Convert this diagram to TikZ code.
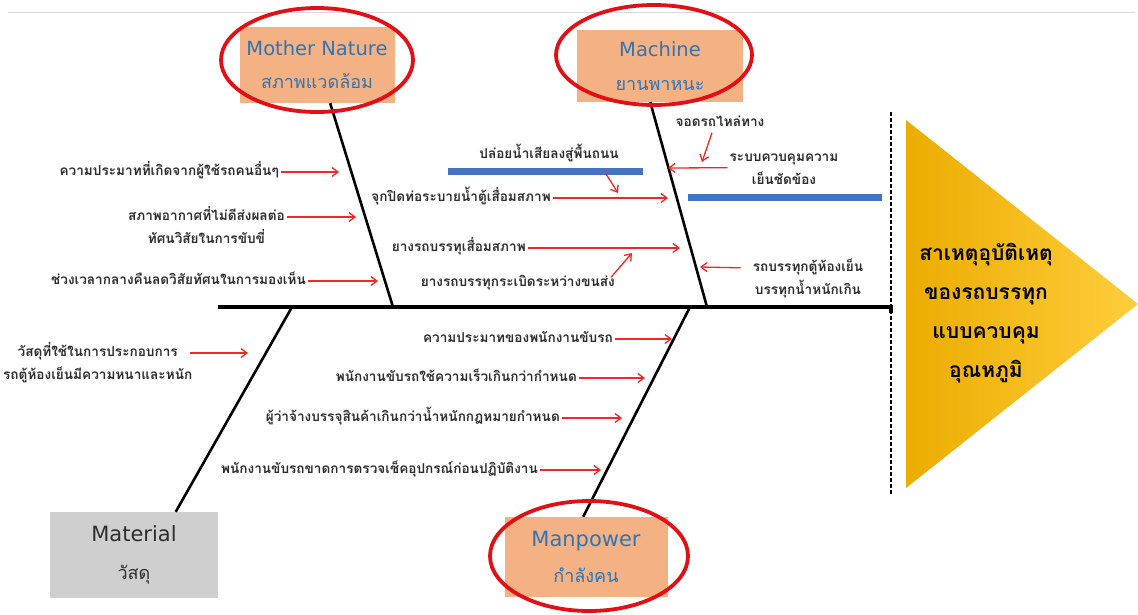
\documentclass[tikz,border=0pt]{standalone}
\usepackage{fontspec}
\setmainfont{DejaVu Sans}
\newfontfamily\thaifont[Script=Thai]{Loma}
\usetikzlibrary{positioning,arrows.meta,shapes.geometric}

\definecolor{boxorange}{RGB}{244,177,131}
\definecolor{labelblue}{RGB}{46,117,182}
\definecolor{ringred}{RGB}{226,16,22}
\definecolor{barblue}{RGB}{68,114,196}
\definecolor{matgrey}{RGB}{208,207,207}
\definecolor{txt}{RGB}{45,45,45}
\definecolor{hintred}{RGB}{240,40,40}
\definecolor{goldl}{RGB}{236,172,0}
\definecolor{goldm}{RGB}{255,192,0}
\definecolor{goldr}{RGB}{255,206,60}

\tikzset{
  cause/.style={font=\thaifont\bfseries\fontsize{13.6}{15}\selectfont,text=txt,inner sep=2pt,text height=11pt,text depth=4pt},
  catbox/.style={fill=boxorange,text=labelblue,align=center,inner sep=0pt},
  ring/.style={ellipse,draw=ringred,line width=3.8pt,inner sep=0pt},
  bone/.style={line width=2.6pt,black},
  hint/.style={draw=hintred,line width=1.3pt,-{Straight Barb[length=6pt,width=9pt]}},
}
\newcommand\thailine[1]{{\thaifont\fontsize{18}{20}\selectfont #1}}

\begin{document}
\begin{tikzpicture}[x=1pt,y=-1pt]
\useasboundingbox (0,0) rectangle (1138,614);
\draw[gray!30,line width=1pt] (8,12) -- (1135,12);

% category boxes
\node[catbox,font=\fontsize{19.5}{33}\selectfont,minimum width=155pt,minimum height=76pt] (nature) at (317,65) {Mother Nature\\\thailine{สภาพแวดล้อม}};
\node[catbox,font=\fontsize{19.5}{34}\selectfont,minimum width=166pt,minimum height=72pt] (machine) at (660,66) {Machine\\\thailine{ยานพาหนะ}};
\node[catbox,font=\fontsize{21}{36}\selectfont,minimum width=163pt,minimum height=80pt] (manpower) at (586,557) {Manpower\\\thailine{กำลังคน}};
\node[catbox,font=\fontsize{21}{38}\selectfont,fill=matgrey,text=txt,minimum width=168pt,minimum height=86pt] (material) at (134,555) {Material\\\thailine{วัสดุ}};

% head
\shade[left color=goldl,middle color=goldm,right color=goldr] (906,120) -- (1138,304) -- (906,488) -- cycle;
\node[font=\thaifont\bfseries\fontsize{21}{39}\selectfont,align=center,text=black] (effect) at (986,313)
  {สาเหตุอุบัติเหตุ\\ของรถบรรทุก\\แบบควบคุม\\อุณหภูมิ};
\draw[line width=1.6pt,dash pattern=on 4pt off 2pt] (891,112) -- (891,495);

% spine and bones
\coordinate (spinestart) at (218,307);
\coordinate (spineend) at (891,307);
\coordinate (naturefoot) at (393,307);
\coordinate (machinefoot) at (707,307);
\coordinate (materialfoot) at (292,307);
\coordinate (manpowerfoot) at (690,307);
\draw[line width=3.6pt] (spinestart) -- (spineend) -- ++(0,6);
\draw[bone] (nature.-71) -- (naturefoot);
\draw[bone] (machine.-105.5) -- (machinefoot);
\draw[bone] (material.46) -- (materialfoot);
\draw[bone] (manpower.94) -- (manpowerfoot);

\fill[barblue] (448,167.5) rectangle (643,174.5);
\fill[barblue] (688,193.5) rectangle (882,200.5);

% mother nature
\node[cause,anchor=east] (others) at (281,172) {ความประมาทที่เกิดจากผู้ใช้รถคนอื่นๆ};
\node[cause,anchor=east] (weather1) at (287,217) {สภาพอากาศที่ไม่ดีส่งผลต่อ};
\node[cause,below=4pt of weather1] (weather2) {ทัศนวิสัยในการขับขี่};
\node[cause,anchor=east] (night) at (308,281) {ช่วงเวลากลางคืนลดวิสัยทัศนในการมองเห็น};
\coordinate (h1) at (339,172);
\coordinate (h2) at (356,217);
\coordinate (h3) at (378,281);
\draw[hint] (others.east) -- (h1);
\draw[hint] (weather1.east) -- (h2);
\draw[hint] (night.east) -- (h3);

% machine
\node[cause] (waste) at (549,155) {ปล่อยน้ำเสียลงสู่พื้นถนน};
\node[cause,anchor=east] (drain) at (553,198) {จุกปิดท่อระบายน้ำตู้เสื่อมสภาพ};
\node[cause,anchor=east] (tyre1) at (528,248) {ยางรถบรรทุเสื่อมสภาพ};
\node[cause,anchor=east] (tyre2) at (617,283) {ยางรถบรรทุกระเบิดระหว่างขนส่ง};
\node[cause] (park) at (720,123) {จอดรถไหล่ทาง};
\node[cause] (cool1) at (784,158) {ระบบควบคุมความ};
\node[cause,below=4pt of cool1] (cool2) {เย็นชัดข้อง};
\node[cause] (truck1) at (808,268) {รถบรรทุกตู้ห้องเย็น};
\node[cause,below=4pt of truck1] (truck2) {บรรทุกน้ำหนักเกิน};
\coordinate (h4) at (618,193);
\coordinate (h5) at (668,198);
\coordinate (h6) at (680,248);
\coordinate (h7) at (632,253);
\coordinate (h8) at (702,162);
\coordinate (h9) at (668,168);
\coordinate (h10) at (700,267);
\draw[hint] ([shift={(-15,9)}]waste.south east) -- (h4);
\draw[hint] (drain.east) -- (h5);
\draw[hint] (tyre1.east) -- (h6);
\draw[hint] ([shift={(-6,4)}]tyre2.north east) -- (h7);
\draw[hint] ([xshift=-8pt]park.south) -- (h8);
\draw[hint] (cool1.south west) -- (h9);
\draw[hint,shorten <=10pt] (truck1.west) -- (h10);

% material
\node[cause,anchor=east] (shell1) at (180,353) {วัสดุที่ใช้ในการประกอบการ};
\node[cause,below=4pt of shell1] (shell2) {รถตู้ห้องเย็นมีความหนาและหนัก};
\coordinate (h11) at (248,353);
\draw[hint,shorten <=10pt] (shell1.east) -- (h11);

% manpower
\node[cause,anchor=east] (careless) at (615,339) {ความประมาทของพนักงานขับรถ};
\node[cause,anchor=east] (speed) at (579,378) {พนักงานขับรถใช้ความเร็วเกินกว่ากำหนด};
\node[cause,anchor=east] (overload) at (562,418) {ผู้ว่าจ้างบรรจุสินค้าเกินกว่าน้ำหนักกฎหมายกำหนด};
\node[cause,anchor=east] (check) at (540,470) {พนักงานขับรถขาดการตรวจเช็คอุปกรณ์ก่อนปฏิบัติงาน};
\coordinate (h12) at (672,339);
\coordinate (h13) at (645,378);
\coordinate (h14) at (622,418);
\coordinate (h15) at (601,470);
\draw[hint] (careless.east) -- (h12);
\draw[hint] (speed.east) -- (h13);
\draw[hint] (overload.east) -- (h14);
\draw[hint] (check.east) -- (h15);

% rings
\node[ring,minimum width=192pt,minimum height=104pt] (ringnature) at (317,60) {};
\node[ring,minimum width=196pt,minimum height=100pt] (ringmachine) at (654,55) {};
\node[ring,minimum width=198pt,minimum height=110pt] (ringmanpower) at (589,556) {};
\end{tikzpicture}
\end{document}
